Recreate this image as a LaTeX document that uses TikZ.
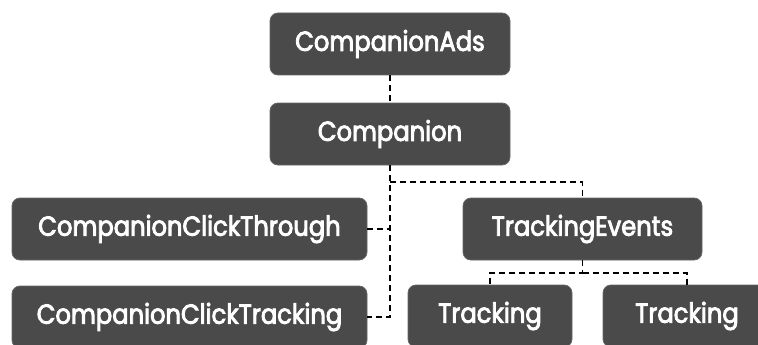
\documentclass[tikz,border=0pt]{standalone}
\usepackage{fontspec}
\setmainfont{Poppins}[FakeBold=3, FakeStretch=0.88]
\definecolor{boxfill}{HTML}{4A4A4A}
\tikzset{
  box/.style={draw=boxfill!85!white, line width=0.8pt, fill=boxfill, rounded corners=8pt, text=white,
    font=\fontsize{27.5}{30}\selectfont, inner sep=0pt, minimum height=62pt, anchor=center},
  conn/.style={draw=black, line width=1.6pt, dash pattern=on 6pt off 4pt}
}
\begin{document}
\begin{tikzpicture}[x=1pt,y=-1pt]
\useasboundingbox (0,0) rectangle (758,345);
\clip (0,0) rectangle (758,345);
\node[box, minimum width=240pt] (ads) at (390,44) {CompanionAds};
\node[box, minimum width=240pt] (comp) at (390,134) {Companion};
\node[box, minimum width=355pt] (cct) at (189.5,229) {CompanionClickThrough};
\node[box, minimum width=355pt] (cctr) at (189.5,317) {CompanionClickTracking};
\node[box, minimum width=239pt] (te) at (582.5,229) {TrackingEvents};
\node[box, minimum width=164pt] (t1) at (490,316) {Tracking};
\node[box, minimum width=168pt] (t2) at (687,316) {Tracking};
\coordinate (h1) at (0,182);
\coordinate (h2) at (0,273);
\draw[conn] (ads.south) -- (comp.north);
\draw[conn] (comp.south) |- (cctr.east);
\draw[conn] (cct.east) -- (cct.east -| comp.south);
\draw[conn] (comp.south |- h1) -| (te.north);
\draw[conn] (te.south) |- (t1.north |- h2) -- (t1.north);
\draw[conn] (te.south |- h2) -| (t2.north);
\end{tikzpicture}
\end{document}
